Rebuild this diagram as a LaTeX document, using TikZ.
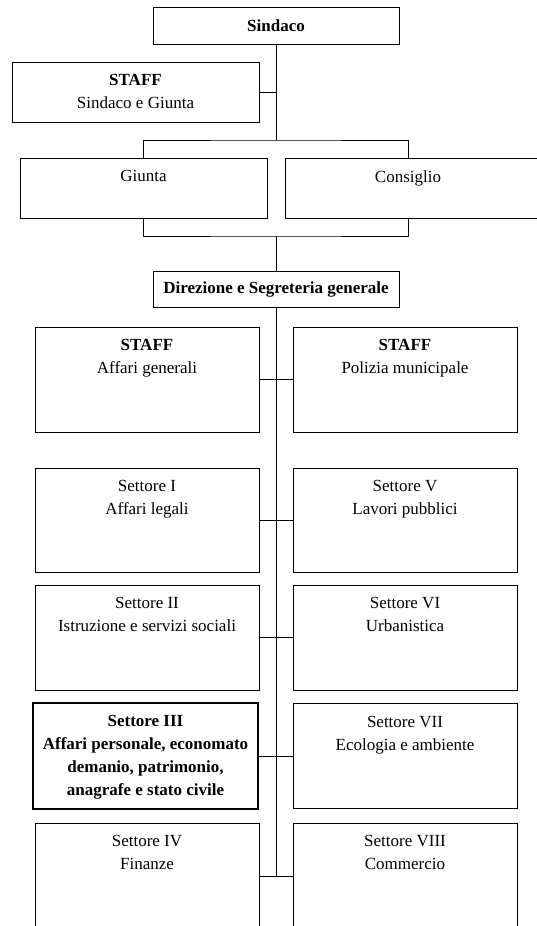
\documentclass[tikz,border=0pt]{standalone}
\usepackage{fontspec}
\setmainfont{Liberation Serif}
\usetikzlibrary{positioning}

\begin{document}
\begin{tikzpicture}[x=1pt, y=-1pt,
	every node/.style={align=center, font=\fontsize{17}{23}\selectfont},
	box/.style={draw, line width=1pt, inner sep=0pt},
	boxtext/.style={anchor=north, inner sep=0pt, yshift=-12.8pt},
	link/.style={line width=1pt}]
			\useasboundingbox (0,0) rectangle (537,926);
			\clip (0,0) rectangle (537,926);
			% Top
			\node[box, minimum width=246pt, minimum height=37pt] (sindaco) at (276,25.5) {\textbf{Sindaco}};
			\node[box, minimum width=247pt, minimum height=60pt] (staffsg) at (135.5,92) {};
			\node[boxtext] (staffsgt) at (staffsg.north) {\textbf{STAFF}\\Sindaco e Giunta};
			\node[box, minimum width=247pt, minimum height=60pt] (giunta) at (143.5,188) {};
			\node[boxtext] (giuntat) at (giunta.north) {Giunta};
			\node[box, minimum width=262pt, minimum height=60pt] (consiglio) at (416,188) {};
			\node[boxtext] (consigliot) at ([xshift=-8pt]consiglio.north) {Consiglio};
			\node[box, minimum width=246pt, minimum height=36pt] (direzione) at (276,289) {\textbf{Direzione e Segreteria generale}};
			% Staff
			\node[box, minimum width=224pt, minimum height=105pt] (staffag) at (147,379.5) {};
			\node[boxtext] (staffagt) at (staffag.north) {\textbf{STAFF}\\Affari generali};
			\node[box, minimum width=224pt, minimum height=105pt] (staffpm) at (405,379.5) {};
			\node[boxtext] (staffpmt) at (staffpm.north) {\textbf{STAFF}\\Polizia municipale};
			% Settori left
			\node[box, minimum width=224pt, minimum height=104pt] (set1) at (147,520) {};
			\node[boxtext] (set1t) at (set1.north) {Settore I\\Affari legali};
			\node[box, minimum width=224pt, minimum height=105pt] (set2) at (147,637.5) {};
			\node[boxtext] (set2t) at (set2.north) {Settore II\\Istruzione e servizi sociali};
			\node[box, line width=2.4pt, minimum width=225pt, minimum height=106pt] (set3) at (145.5,756) {};
			\node[boxtext] (set3t) at (set3.north) {\textbf{Settore III}\\\textbf{Affari personale, economato}\\\textbf{demanio, patrimonio,}\\\textbf{anagrafe e stato civile}};
			\node[box, minimum width=224pt, minimum height=106pt] (set4) at (147,876) {};
			\node[boxtext] (set4t) at (set4.north) {Settore IV\\Finanze};
			% Settori right
			\node[box, minimum width=224pt, minimum height=104pt] (set5) at (405,520) {};
			\node[boxtext] (set5t) at (set5.north) {Settore V\\Lavori pubblici};
			\node[box, minimum width=224pt, minimum height=105pt] (set6) at (405,637.5) {};
			\node[boxtext] (set6t) at (set6.north) {Settore VI\\Urbanistica};
			\node[box, minimum width=224pt, minimum height=105pt] (set7) at (405,756) {};
			\node[boxtext] (set7t) at (set7.north) {Settore VII\\Ecologia e ambiente};
			\node[box, minimum width=224pt, minimum height=106pt] (set8) at (405,876) {};
			\node[boxtext] (set8t) at (set8.north) {Settore VIII\\Commercio};
			% Lines top
			\coordinate (topfork) at (276,140);
			\coordinate (botfork) at (276,236);
			\draw[link] (sindaco.south) -- (topfork);
			\draw[link] (staffsg.east) -- (staffsg.east -| sindaco.south);
			\draw[link] (giunta.north) |- (topfork) -| ([xshift=-8pt]consiglio.north);
			\draw[link] (giunta.south) |- (botfork) -| ([xshift=-8pt]consiglio.south);
			\draw[link] (botfork) -- (direzione.north);
			% Lines settori
			\draw[link] (direzione.south) -- (direzione.south |- set4.east);
			\draw[link] (staffag.east) -- (staffpm.west);
			\draw[link] (set1.east) -- (set5.west);
			\draw[link] (set2.east) -- (set6.west);
			\draw[link] (set3.east) -- (set7.west);
			\draw[link] (set4.east) -- (set8.west);
		\end{tikzpicture}
\end{document}
